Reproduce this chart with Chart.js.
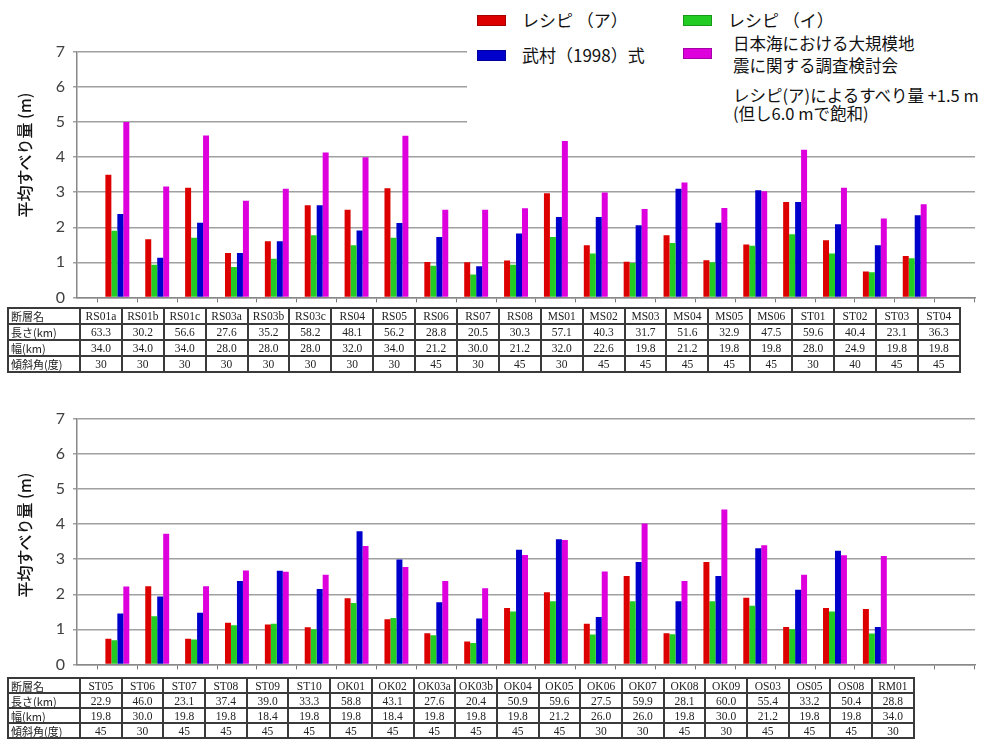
<!DOCTYPE html>
<html>
<head>
<meta charset="utf-8">
<script src="https://cdn.jsdelivr.net/npm/chart.js@4.4.1/dist/chart.umd.min.js"></script>
<style>
  html, body { margin: 0; padding: 0; background: #fff; }
  body { width: 1002px; height: 742px; position: relative; overflow: hidden;
         font-family: "Noto Sans CJK JP", "Noto Sans", sans-serif; color: #111; }
  canvas { position: absolute; left: 0; }
  #chartTop { top: 0; }
  #chartBottom { top: 380px; }
  .ytitle { position: absolute; width: 160px; height: 20px; line-height: 20px; text-align: center;
            font-size: 16px; font-weight: 500; color: #111; transform: rotate(-90deg); transform-origin: 50% 50%; white-space: nowrap; }
  #legend { position: absolute; left: 467px; top: 0; width: 535px; height: 130px; background: #fff; }
  .sw { position: absolute; width: 27px; height: 9px; border: 1px solid rgba(0,0,0,0.25); }
  .lt { position: absolute; white-space: nowrap; line-height: 1; color: #111; }
  table.faults { position: absolute; border-collapse: collapse; table-layout: fixed;
                 font-family: "Liberation Serif", "DejaVu Serif", serif; font-size: 11.5px; color: #222; }
  table.faults td { border: 2px solid #3a3a3a; padding: 0; text-align: center; overflow: hidden;
                    white-space: nowrap; box-sizing: border-box; }
  table.faults td.hd { text-align: left; padding-left: 2px; font-family: "Noto Sans CJK JP", sans-serif; font-size: 11px; }
</style>
</head>
<body>
<canvas id="chartTop" width="1002" height="315"></canvas>
<canvas id="chartBottom" width="1002" height="302"></canvas>

<div class="ytitle" style="left:-56px; top:145px;">平均すべり量 (m)</div>
<div class="ytitle" style="left:-56px; top:525px;">平均すべり量 (m)</div>

<div id="legend">
  <div class="sw" style="left:10px; top:15px; background:#dd0000;"></div>
  <div class="lt" style="left:55px; top:11px; font-size:17px;">レシピ （ア）</div>
  <div class="sw" style="left:216px; top:15px; background:#22cc22;"></div>
  <div class="lt" style="left:261px; top:11px; font-size:17px;">レシピ （イ）</div>
  <div class="sw" style="left:10px; top:50px; background:#0000cc;"></div>
  <div class="lt" style="left:55px; top:46px; font-size:17px;">武村（1998）式</div>
  <div class="sw" style="left:216px; top:48px; background:#dd00dd;"></div>
  <div class="lt" style="left:266px; top:35px; font-size:16.5px;">日本海における大規模地</div>
  <div class="lt" style="left:266px; top:57px; font-size:16.5px;">震に関する調査検討会</div>
  <div class="lt" style="left:266px; top:87px; font-size:16.5px;">レシピ(ア)によるすべり量 +1.5 m</div>
  <div class="lt" style="left:266px; top:105px; font-size:16.5px;">(但し6.0 mで飽和)</div>
</div>

<table class="faults" id="tableTop" style="left:7px; top:307px;"></table>
<table class="faults" id="tableBottom" style="left:7px; top:677px;"></table>

<script>
// ---- Upper panel: fault parameters ----
const topFaults = ["RS01a","RS01b","RS01c","RS03a","RS03b","RS03c","RS04","RS05","RS06","RS07","RS08",
                   "MS01","MS02","MS03","MS04","MS05","MS06","ST01","ST02","ST03","ST04"];
const topLength = ["63.3","30.2","56.6","27.6","35.2","58.2","48.1","56.2","28.8","20.5","30.3",
                   "57.1","40.3","31.7","51.6","32.9","47.5","59.6","40.4","23.1","36.3"];
const topWidth  = ["34.0","34.0","34.0","28.0","28.0","28.0","32.0","34.0","21.2","30.0","21.2",
                   "32.0","22.6","19.8","21.2","19.8","19.8","28.0","24.9","19.8","19.8"];
const topDip    = ["30","30","30","30","30","30","30","30","45","30","45",
                   "30","45","45","45","45","45","30","40","45","45"];

// ---- Upper panel: average slip (m) ----
const topRecipeA   = [3.50,1.66,3.13,1.27,1.60,2.63,2.50,3.11,1.01,1.00,1.05,2.97,1.49,1.02,1.77,1.06,1.51,2.72,1.63,0.74,1.18];
const topRecipeI   = [1.90,0.93,1.70,0.87,1.10,1.77,1.49,1.70,0.90,0.65,0.93,1.72,1.25,0.98,1.55,1.00,1.47,1.80,1.25,0.72,1.12];
const topTakemura  = [2.38,1.13,2.13,1.27,1.60,2.63,1.91,2.12,1.72,0.89,1.82,2.29,2.29,2.06,3.10,2.13,3.06,2.72,2.09,1.49,2.34];
const topCommittee = [5.00,3.16,4.62,2.76,3.10,4.13,4.00,4.61,2.50,2.50,2.54,4.46,2.99,2.52,3.28,2.55,3.03,4.21,3.13,2.25,2.66];

// ---- Lower panel: fault parameters ----
const botFaults = ["ST05","ST06","ST07","ST08","ST09","ST10","OK01","OK02","OK03a","OK03b",
                   "OK04","OK05","OK06","OK07","OK08","OK09","OS03","OS05","OS08","RM01"];
const botLength = ["22.9","46.0","23.1","37.4","39.0","33.3","58.8","43.1","27.6","20.4",
                   "50.9","59.6","27.5","59.9","28.1","60.0","55.4","33.2","50.4","28.8"];
const botWidth  = ["19.8","30.0","19.8","19.8","18.4","19.8","19.8","18.4","19.8","19.8",
                   "19.8","21.2","26.0","26.0","19.8","30.0","21.2","19.8","19.8","34.0"];
const botDip    = ["45","30","45","45","45","45","45","45","45","45",
                   "45","45","30","30","45","30","45","45","45","30"];

// ---- Lower panel: average slip (m) ----
const botRecipeA   = [0.73,2.23,0.73,1.19,1.14,1.06,1.89,1.29,0.89,0.65,1.61,2.06,1.16,2.52,0.89,2.92,1.90,1.07,1.61,1.58];
const botRecipeI   = [0.69,1.37,0.71,1.12,1.16,1.00,1.75,1.32,0.83,0.61,1.51,1.80,0.85,1.80,0.86,1.80,1.67,1.00,1.51,0.88];
const botTakemura  = [1.45,1.94,1.47,2.38,2.67,2.15,3.80,2.99,1.77,1.31,3.27,3.57,1.35,2.92,1.80,2.52,3.31,2.13,3.24,1.07];
const botCommittee = [2.22,3.73,2.23,2.68,2.64,2.56,3.38,2.78,2.38,2.17,3.12,3.55,2.65,4.02,2.38,4.42,3.40,2.56,3.11,3.09];

const rowHeads = ["断層名", "長さ(km)", "幅(km)", "傾斜角(度)"];
const yTicks = [0, 1, 2, 3, 4, 5, 6, 7];
const seriesNames = ["レシピ （ア）", "レシピ （イ）", "武村(1998)式", "日本海における大規模地震に関する調査検討会"];
const seriesColors = ["#dd0000", "#22cc22", "#0000cc", "#dd00dd"];
const SLOTS = 21; // category slots on the x axis (0..21 tick positions)

function toPoints(arr) { return arr.map((v, i) => ({ x: i, y: v })); }

function makeChart(canvasId, series, padTop) {
  const datasets = series.map((arr, k) => ({
    label: seriesNames[k],
    data: toPoints(arr),
    backgroundColor: seriesColors[k],
    borderWidth: 0,
    categoryPercentage: 0.6,
    barPercentage: 1.0
  }));
  return new Chart(document.getElementById(canvasId), {
    type: 'bar',
    data: { datasets },
    options: {
      responsive: false,
      animation: false,
      layout: { padding: { top: padTop, right: 27, left: 0, bottom: 0 } },
      plugins: { legend: { display: false }, tooltip: { enabled: false } },
      scales: {
        x: {
          type: 'linear',
          min: -0.5,
          max: SLOTS,
          afterBuildTicks: s => { s.ticks = Array.from({ length: SLOTS + 1 }, (_, i) => ({ value: i })); },
          afterFit: s => { s.height = 8; },
          ticks: { display: false },
          grid: { drawOnChartArea: false, drawTicks: true, tickLength: 5, color: '#777', lineWidth: 1 },
          border: { display: true, color: '#888', width: 1.5 }
        },
        y: {
          min: 0,
          max: 7,
          afterBuildTicks: s => { s.ticks = yTicks.map(v => ({ value: v })); },
          afterFit: s => { s.width = 77; },
          ticks: { color: '#404040', padding: 8, font: { family: 'Lato, "Open Sans", sans-serif', size: 16 } },
          grid: { color: '#a0a0a0', lineWidth: 1.5, tickLength: 4 },
          border: { display: true, color: '#888', width: 1.5 }
        }
      }
    }
  });
}

makeChart('chartTop', [topRecipeA, topRecipeI, topTakemura, topCommittee], 52);
makeChart('chartBottom', [botRecipeA, botRecipeI, botTakemura, botCommittee], 39);

function buildTable(id, names, len, wid, dip, colW, rowH) {
  const t = document.getElementById(id);
  const rows = [names, len, wid, dip];
  const cg = document.createElement('colgroup');
  const c0 = document.createElement('col'); c0.style.width = '72px'; cg.appendChild(c0);
  names.forEach(() => { const c = document.createElement('col'); c.style.width = colW + 'px'; cg.appendChild(c); });
  t.appendChild(cg);
  t.style.width = (72 + names.length * colW) + 'px';
  rows.forEach((r, ri) => {
    const tr = document.createElement('tr');
    const cells = [rowHeads[ri]].concat(r);
    cells.forEach((v, ci) => {
      const td = document.createElement('td');
      if (ci === 0) td.className = 'hd';
      td.textContent = v;
      td.style.height = rowH + 'px';
      td.style.lineHeight = (rowH - 3) + 'px';
      tr.appendChild(td);
    });
    t.appendChild(tr);
  });
}
buildTable('tableTop', topFaults, topLength, topWidth, topDip, 41.9, 16);
buildTable('tableBottom', botFaults, botLength, botWidth, botDip, 41.7, 15);
</script>
</body>
</html>
